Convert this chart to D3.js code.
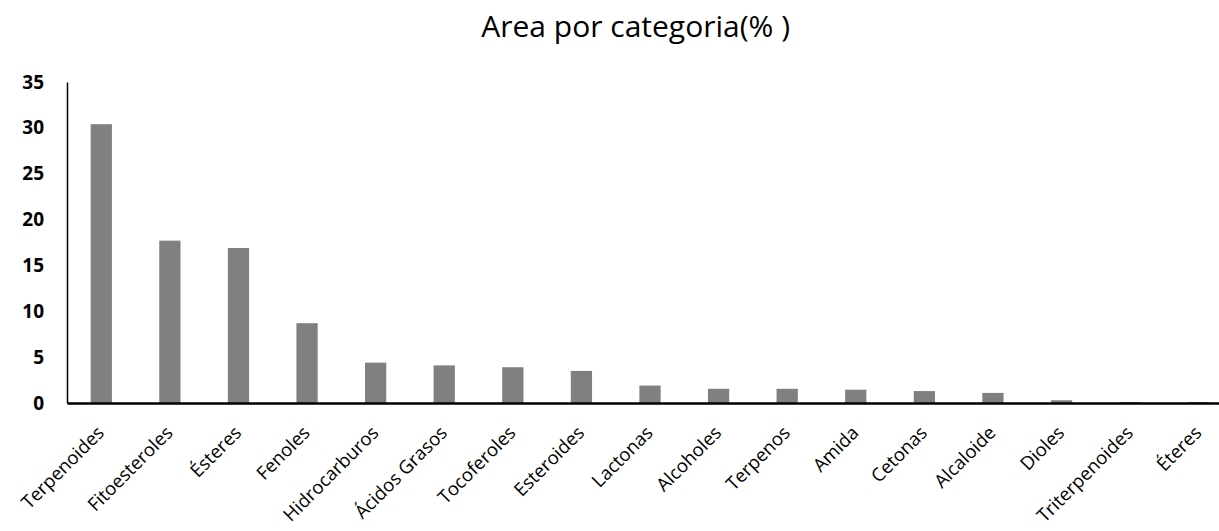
<!DOCTYPE html>
<html>
<head>
<meta charset="utf-8">
<title>Area por categoria</title>
<style>
  body{margin:0;background:#fff;}
  svg text{font-family:"Open Sans", sans-serif;}
</style>
</head>
<body>
<div id="chart"></div>
<script src="https://cdn.jsdelivr.net/npm/d3@7"></script>
<script>
var categories = ["Terpenoides","Fitoesteroles","Ésteres","Fenoles","Hidrocarburos","Ácidos Grasos",
  "Tocoferoles","Esteroides","Lactonas","Alcoholes","Terpenos","Amida","Cetonas","Alcaloide",
  "Dioles","Triterpenoides","Éteres"];
var values = [30.4, 17.7, 16.9, 8.7, 4.4, 4.1, 3.9, 3.5, 1.9, 1.55, 1.55, 1.45, 1.3, 1.1, 0.3, 0.1, 0.1];
var yTicks = [0, 5, 10, 15, 20, 25, 30, 35];
var title = "Area por categoria(% )";

var W = 1219, H = 531;
var margin = {top: 82, left: 67, bottom: 128};
var plotW = 1166;

var svg = d3.select("#chart").append("svg")
  .attr("width", W).attr("height", H);

var x = d3.scaleBand().domain(categories)
  .range([margin.left, margin.left + plotW])
  .paddingInner(0.69).paddingOuter(0.345);
var y = d3.scaleLinear().domain([0, 35]).range([H - margin.bottom, margin.top]);

// title
svg.append("text")
  .attr("x", 790).attr("y", 37)
  .attr("text-anchor", "end")
  .attr("font-size", 30)
  .attr("fill", "#000")
  .text(title);

// bars
svg.append("g").selectAll("rect")
  .data(values)
  .enter().append("rect")
  .attr("x", function(d, i){ return x(categories[i]); })
  .attr("width", x.bandwidth())
  .attr("y", function(d){ return y(d); })
  .attr("height", function(d){ return y(0) - y(d); })
  .attr("fill", "#808080");

// y axis
var yAxis = d3.axisLeft(y).tickValues(yTicks).tickSize(0).tickPadding(23);
var gy = svg.append("g")
  .attr("transform", "translate(" + margin.left + ",0)")
  .call(yAxis);
gy.select(".domain").attr("stroke", "#000").attr("stroke-width", 1.5);
gy.selectAll(".tick text")
  .attr("font-size", 19).attr("font-weight", "bold")
  .attr("font-family", "'Open Sans', sans-serif")
  .attr("fill", "#000");

// x axis
var xAxis = d3.axisBottom(x).tickSize(0).tickPadding(0);
var gx = svg.append("g")
  .attr("transform", "translate(0," + y(0) + ")")
  .call(xAxis);
gx.select(".domain").attr("stroke", "#000").attr("stroke-width", 2.5);
gx.selectAll(".tick text")
  .attr("font-size", 18.5)
  .attr("font-family", "'Open Sans', sans-serif")
  .attr("fill", "#000")
  .attr("text-anchor", "end")
  .attr("dy", 0)
  .attr("transform", "translate(4,31) rotate(-45)");
</script>
</body>
</html>
